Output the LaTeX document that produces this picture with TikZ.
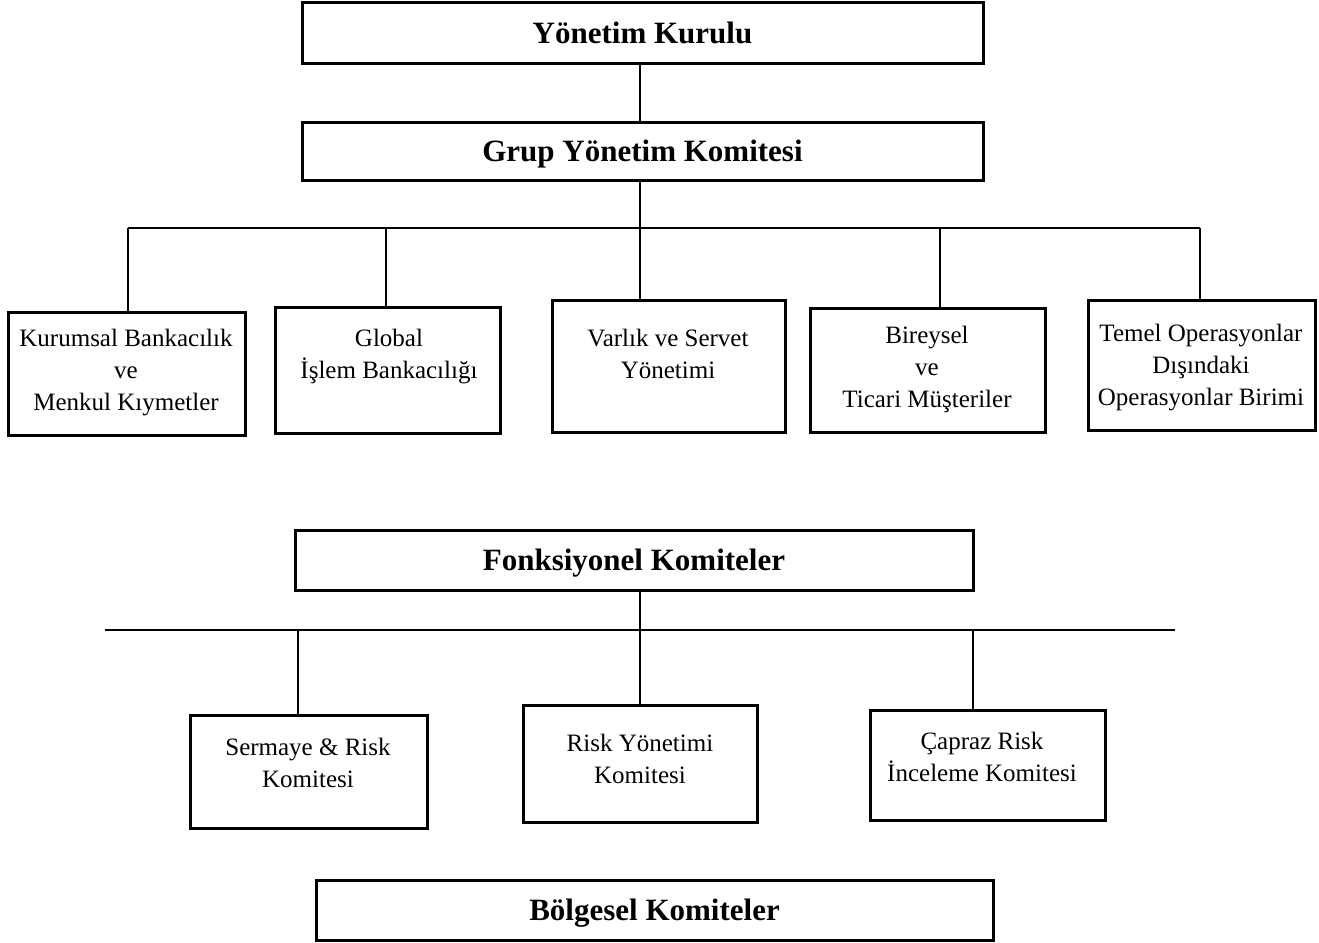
\documentclass[tikz,border=0pt]{standalone}
\usepackage{fontspec}
\setmainfont{Liberation Serif}
\begin{document}
\begin{tikzpicture}[x=0.5pt,y=-0.5pt,
  box/.style={draw=black,line width=1.5pt,fill=white,inner sep=0pt},
  head/.style={font=\fontsize{15.5}{18}\selectfont\bfseries,text depth=0pt},
  lbl/.style={align=center,inner sep=0pt,font=\fontsize{12.5}{16}\selectfont},
  conn/.style={line width=1.2pt}]
\useasboundingbox (0,0) rectangle (1319,943);
% top level
\node[box,minimum width=340.5pt,minimum height=30.5pt,head] (yk) at (642.5,32.5) {Yönetim Kurulu};
\node[box,minimum width=340.5pt,minimum height=29pt,head] (gyk) at (642.5,151) {Grup Yönetim Komitesi};
% divisions
\node[box,minimum width=118.5pt,minimum height=61.5pt] (k1) at (126.5,373.5) {};
\node[box,minimum width=112.5pt,minimum height=63pt] (k2) at (387.5,370) {};
\node[box,minimum width=116.5pt,minimum height=66pt] (k3) at (668.5,366) {};
\node[box,minimum width=117.5pt,minimum height=62pt] (k4) at (927.5,370) {};
\node[box,minimum width=113.5pt,minimum height=65pt] (k5) at (1201.5,365) {};
\node[lbl] (k1t) at (126,373) {Kurumsal Bankacılık\\ve\\Menkul Kıymetler};
\node[lbl] (k2t) at (389,357) {Global\\İşlem Bankacılığı};
\node[lbl] (k3t) at (668,354) {Varlık ve Servet\\Yönetimi};
\node[lbl] (k4t) at (927,369) {Bireysel\\ve\\Ticari Müşteriler};
\node[lbl] (k5t) at (1201,368) {Temel Operasyonlar\\Dışındaki\\Operasyonlar Birimi};
% connectors top
\draw[conn] (yk.south -| 640,0) -- (gyk.north -| 640,0);
\coordinate (bus) at (640,228);
\coordinate (b1) at (128,228);
\coordinate (b2) at (386,228);
\coordinate (b4) at (940,228);
\coordinate (b5) at (1200,228);
\draw[conn] (gyk.south -| bus) -- (bus);
\draw[conn] (b1) -- (b5);
\draw[conn] (b1) -- (b1 |- k1.north);
\draw[conn] (b2) -- (b2 |- k2.north);
\draw[conn] (bus) -- (bus |- k3.north);
\draw[conn] (b4) -- (b4 |- k4.north);
\draw[conn] (b5) -- (b5 |- k5.north);
% functional committees
\node[box,minimum width=339pt,minimum height=30pt,head] (fk) at (634,560) {Fonksiyonel Komiteler};
\node[box,minimum width=118.5pt,minimum height=56.5pt] (s1) at (308.5,771.5) {};
\node[box,minimum width=117pt,minimum height=58.5pt] (s2) at (640,763.5) {};
\node[box,minimum width=117.5pt,minimum height=55pt] (s3) at (987.5,765) {};
\node[lbl] (s1t) at (308,763) {Sermaye \& Risk\\Komitesi};
\node[lbl] (s2t) at (640,759) {Risk Yönetimi\\Komitesi};
\node[lbl] (s3t) at (982,757) {Çapraz Risk\\İnceleme Komitesi};
\coordinate (hl) at (105,630);
\coordinate (hr) at (1175,630);
\coordinate (c1) at (298,630);
\coordinate (c2) at (640,630);
\coordinate (c3) at (973,630);
\draw[conn] (hl) -- (hr);
\draw[conn] (fk.south -| c2) -- (c2);
\draw[conn] (c1) -- (c1 |- s1.north);
\draw[conn] (c2) -- (c2 |- s2.north);
\draw[conn] (c3) -- (c3 |- s3.north);
% regional
\node[box,minimum width=338.5pt,minimum height=30pt,head] (bk) at (654.5,910) {Bölgesel Komiteler};
\end{tikzpicture}
\end{document}
